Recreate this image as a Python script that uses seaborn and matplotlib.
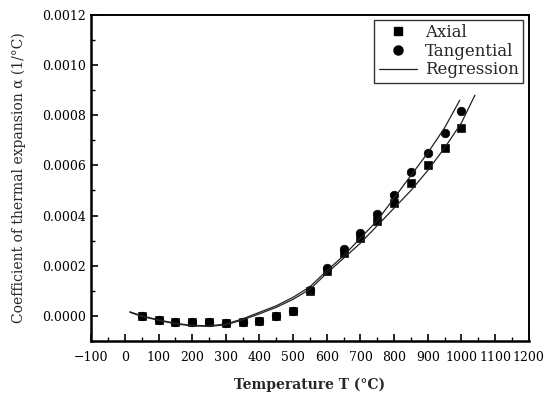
import numpy as np
import pandas as pd
import seaborn as sns
import matplotlib.pyplot as plt
from matplotlib.lines import Line2D
from matplotlib.ticker import MultipleLocator, FormatStrFormatter

# temperaturas de ensayo (C)
temp = [50, 100, 150, 200, 250, 300, 350, 400, 450, 500,
        550, 600, 650, 700, 750, 800, 850, 900, 950, 1000]

# coeficiente de dilatacion (1/C)
axial = [0.0, -0.000016, -0.000024, -0.000025, -0.000025, -0.000027, -0.000024, -0.00002, -0.000002, 0.00002,
         0.0001, 0.00018, 0.00025, 0.000312, 0.00038, 0.00045, 0.00053, 0.0006, 0.00067, 0.00075]
tangential = [0.0, -0.000016, -0.000024, -0.000025, -0.000026, -0.000028, -0.000025, -0.00002, -0.000002, 0.00002,
              0.000102, 0.00019, 0.000265, 0.00033, 0.000406, 0.000482, 0.000573, 0.000649, 0.000728, 0.000816]

# curvas de regresion
reg_t_tan = [15, 50, 100, 150, 200, 250, 300, 350, 400, 450, 500,
             550, 600, 650, 700, 750, 800, 850, 900, 950, 995]
reg_tan = [0.000016, 0.0, -0.000016, -0.00003, -0.000038, -0.00004, -0.000033, -0.000012, 0.000014, 0.00004, 0.000074,
           0.000116, 0.00018, 0.00024, 0.00031, 0.00038, 0.00047, 0.00056, 0.00065, 0.00075, 0.00086]
reg_t_ax = [15, 50, 100, 150, 200, 250, 300, 350, 400, 450, 500,
            550, 600, 650, 700, 750, 800, 850, 900, 950, 1000, 1040]
reg_ax = [0.000014, -0.000002, -0.000018, -0.000032, -0.00004, -0.000042, -0.000036, -0.000016, 0.000008, 0.000034, 0.000066,
          0.000106, 0.00017, 0.00023, 0.00029, 0.00036, 0.00043, 0.0005, 0.00058, 0.00067, 0.00077, 0.00088]

df = pd.DataFrame({"T": temp, "Axial": axial, "Tangential": tangential})

sns.set_style("ticks")
plt.rcParams["font.family"] = ["DejaVu Serif"]

fig = plt.figure(figsize=(5.56, 3.95), dpi=100)
ax = fig.add_axes([0.164, 0.137, 0.787, 0.825])

sns.lineplot(x=reg_t_tan, y=reg_tan, color="#222222", linewidth=0.9, ax=ax)
sns.lineplot(x=reg_t_ax, y=reg_ax, color="#222222", linewidth=0.9, ax=ax)

sns.scatterplot(data=df, x="T", y="Tangential", marker="o", s=38, color="black", edgecolor="black", ax=ax)
sns.scatterplot(data=df, x="T", y="Axial", marker="s", s=32, color="black", edgecolor="black", ax=ax)

ax.set_xlim(-100, 1200)
ax.set_ylim(-0.0001, 0.0012)
ax.xaxis.set_major_locator(MultipleLocator(100))
ax.xaxis.set_minor_locator(MultipleLocator(50))
ax.set_yticks(np.arange(0, 0.00121, 0.0002))
ax.yaxis.set_minor_locator(MultipleLocator(0.0001))
ax.yaxis.set_major_formatter(FormatStrFormatter("%.4f"))
ax.tick_params(which="both", direction="in", labelsize=9, colors="black")
ax.tick_params(axis="x", which="major", pad=7)
ax.tick_params(which="major", length=5, width=1.2)
ax.tick_params(which="minor", length=3, width=1)
for s in ["left", "bottom"]:
    ax.spines[s].set_linewidth(1.8)
for s in ["top", "right"]:
    ax.spines[s].set_linewidth(1.4)
for s in ax.spines.values():
    s.set_color("black")

ax.set_xlabel("Temperature T (°C)", fontsize=10, fontweight="bold", labelpad=10)
ax.set_ylabel("Coefficient of thermal expansion α (1/°C)", fontsize=10, labelpad=12)

handles = [Line2D([], [], marker="s", color="black", linestyle="none", markersize=6),
           Line2D([], [], marker="o", color="black", linestyle="none", markersize=6.5),
           Line2D([], [], color="#222222", linewidth=0.9)]
leg = ax.legend(handles, ["Axial", "Tangential", "Regression"], loc="upper right",
                fontsize=12, frameon=True, fancybox=False, edgecolor="black",
                borderpad=0.25, labelspacing=0.1, handlelength=2.3, handletextpad=0.5,
                borderaxespad=0.2, bbox_to_anchor=(0.995, 0.995))
leg.get_frame().set_linewidth(1.0)

fig.savefig("out.png", dpi=100)
